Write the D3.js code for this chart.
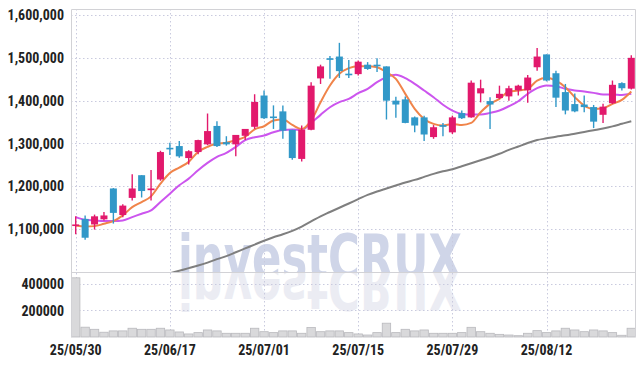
<!DOCTYPE html>
<html>
<head>
<meta charset="utf-8">
<script src="https://cdn.jsdelivr.net/npm/d3@7"></script>
<style>
  body { margin: 0; background: #fff; }
  svg { display: block; }
  .lbl { font-family: "Liberation Sans Narrow", "Roboto Condensed", "Roboto", sans-serif; font-weight: bold; font-size: 14px; fill: #222; }
</style>
</head>
<body>
<div id="chart"></div>
<script>
// trading days (KRX)
var dates = ['25/05/30', '25/06/02', '25/06/04', '25/06/05', '25/06/09', '25/06/10', '25/06/11', '25/06/12', '25/06/13', '25/06/16',
  '25/06/17', '25/06/18', '25/06/19', '25/06/20', '25/06/23', '25/06/24', '25/06/25', '25/06/26', '25/06/27', '25/06/30',
  '25/07/01', '25/07/02', '25/07/03', '25/07/04', '25/07/07', '25/07/08', '25/07/09', '25/07/10', '25/07/11', '25/07/14',
  '25/07/15', '25/07/16', '25/07/17', '25/07/18', '25/07/21', '25/07/22', '25/07/23', '25/07/24', '25/07/25', '25/07/28',
  '25/07/29', '25/07/30', '25/07/31', '25/08/01', '25/08/04', '25/08/05', '25/08/06', '25/08/07', '25/08/08', '25/08/11',
  '25/08/12', '25/08/13', '25/08/14', '25/08/18', '25/08/19', '25/08/20', '25/08/21', '25/08/22', '25/08/25', '25/08/26'];
var tickDates = ['25/05/30', '25/06/17', '25/07/01', '25/07/15', '25/07/29', '25/08/12'];

var openP = [1108000, 1124000, 1111000, 1123000, 1195000, 1133000, 1173000, 1226000, 1191000, 1216000,
  1290000, 1294000, 1266000, 1280000, 1298000, 1341000, 1303000, 1298000, 1318000, 1339000,
  1412000, 1363000, 1375000, 1332000, 1264000, 1332000, 1452000, 1499000, 1503000, 1463000,
  1462000, 1484000, 1484000, 1480000, 1400000, 1403000, 1361000, 1361000, 1315000, 1343000,
  1326000, 1371000, 1361000, 1417000, 1399000, 1406000, 1410000, 1424000, 1424000, 1478000,
  1508000, 1464000, 1420000, 1392000, 1391000, 1385000, 1367000, 1394000, 1441000, 1428000];
var highP = [1130000, 1132000, 1134000, 1140000, 1196000, 1158000, 1228000, 1226000, 1238000, 1283000,
  1302000, 1306000, 1284000, 1309000, 1370000, 1352000, 1317000, 1320000, 1334000, 1415000,
  1424000, 1389000, 1389000, 1332000, 1342000, 1443000, 1484000, 1504000, 1535000, 1495000,
  1494000, 1490000, 1499000, 1480000, 1409000, 1410000, 1363000, 1365000, 1343000, 1348000,
  1365000, 1377000, 1447000, 1449000, 1408000, 1435000, 1435000, 1437000, 1460000, 1523000,
  1508000, 1470000, 1439000, 1417000, 1412000, 1390000, 1393000, 1447000, 1443000, 1506000];
var lowP = [1088000, 1075000, 1099000, 1120000, 1113000, 1128000, 1167000, 1174000, 1167000, 1213000,
  1273000, 1267000, 1251000, 1275000, 1296000, 1292000, 1295000, 1270000, 1308000, 1334000,
  1357000, 1334000, 1311000, 1262000, 1258000, 1331000, 1439000, 1451000, 1453000, 1453000,
  1459000, 1472000, 1467000, 1356000, 1360000, 1347000, 1326000, 1306000, 1311000, 1317000,
  1322000, 1357000, 1360000, 1396000, 1334000, 1404000, 1400000, 1412000, 1395000, 1470000,
  1445000, 1385000, 1368000, 1373000, 1373000, 1336000, 1348000, 1392000, 1424000, 1426000];
var closeP = [1111000, 1080000, 1130000, 1132000, 1138000, 1155000, 1195000, 1189000, 1195000, 1280000,
  1288000, 1270000, 1282000, 1308000, 1329000, 1294000, 1298000, 1320000, 1334000, 1397000,
  1359000, 1360000, 1330000, 1266000, 1332000, 1435000, 1480000, 1497000, 1469000, 1460000,
  1491000, 1474000, 1482000, 1400000, 1391000, 1348000, 1342000, 1321000, 1338000, 1339000,
  1361000, 1359000, 1442000, 1429000, 1391000, 1416000, 1429000, 1435000, 1454000, 1503000,
  1447000, 1407000, 1377000, 1375000, 1385000, 1351000, 1386000, 1437000, 1429000, 1500000];

// moving averages as drawn (orange, violet, gray)
var ma5 = [1108700, 1106300, 1107100, 1112600, 1118800, 1132100, 1151600, 1163400, 1176600, 1206300,
  1231300, 1243800, 1257100, 1280500, 1292200, 1300000, 1301600, 1307800, 1315600, 1333000,
  1340300, 1353500, 1355900, 1343400, 1334100, 1353500, 1396400, 1435300, 1462600, 1475900,
  1480500, 1480500, 1478200, 1466500, 1450900, 1415900, 1380800, 1357400, 1345800, 1341900,
  1345800, 1343400, 1348100, 1373000, 1392500, 1404200, 1421300, 1423700, 1427600, 1447000,
  1453300, 1447000, 1431400, 1408100, 1388600, 1380800, 1382400, 1392500, 1401800, 1421300];
var ma10 = [1128200, 1122000, 1120400, 1118800, 1118800, 1120400, 1128200, 1136000, 1143800, 1163400,
  1182900, 1202400, 1218000, 1237600, 1254700, 1268800, 1278200, 1292200, 1307800, 1314700,
  1318500, 1326300, 1331700, 1332500, 1331700, 1348100, 1366800, 1384700, 1396400, 1404200,
  1417400, 1427600, 1443100, 1454800, 1460300, 1452500, 1439200, 1423700, 1408100, 1390500,
  1376900, 1369100, 1367600, 1367600, 1371500, 1376900, 1387000, 1398700, 1415900, 1429100,
  1435300, 1433800, 1427600, 1423700, 1421300, 1418200, 1414300, 1414300, 1413500, 1415900];
var maLong = [null, null, null, null, null, null, null, null, null, null,
  997000, 1003000, 1009000, 1015000, 1022000, 1030000, 1037000, 1046000, 1055000, 1064000,
  1073000, 1081000, 1088000, 1096000, 1106000, 1118000, 1130000, 1140000, 1150000, 1160000,
  1170000, 1180000, 1188000, 1195000, 1202000, 1209000, 1215000, 1222000, 1229000, 1235000,
  1240000, 1247000, 1254000, 1261000, 1268000, 1276000, 1285000, 1293000, 1301000, 1308000,
  1312000, 1316000, 1319000, 1323000, 1327000, 1331000, 1335000, 1340000, 1346000, 1352000];

var volume = [446000, 74000, 58000, 36000, 46000, 46000, 66000, 58000, 58000, 66000,
  53000, 38000, 23000, 33000, 53000, 46000, 28000, 28000, 28000, 66000,
  40000, 33000, 46000, 46000, 28000, 71000, 40000, 46000, 46000, 33000,
  23000, 15000, 33000, 104000, 33000, 58000, 46000, 53000, 28000, 28000,
  28000, 33000, 73000, 40000, 28000, 20000, 15000, 10000, 28000, 48000,
  33000, 46000, 66000, 53000, 40000, 53000, 46000, 33000, 13000, 66000];

var priceTicks = [1100000, 1200000, 1300000, 1400000, 1500000, 1600000];
var volTicks = [200000, 400000];

var width = 644, height = 366;
var plotLeft = 71, plotRight = 636, plotTop = 9, plotSplit = 272, plotBottom = 337;

var svg = d3.select('#chart').append('svg')
    .attr('width', width)
    .attr('height', height);

var x = d3.scaleBand().domain(dates).range([plotLeft, plotRight]).padding(0);
var cx = function (d) { return x(d) + x.bandwidth() / 2; };
var y = d3.scaleLinear().domain([1000000, 1614000]).range([plotSplit, plotTop]);
var yv = d3.scaleLinear().domain([0, 490000]).range([plotBottom, plotSplit]);

var defs = svg.append('defs');
defs.append('clipPath').attr('id', 'clipMain')
    .append('rect').attr('x', plotLeft).attr('y', plotTop)
    .attr('width', plotRight - plotLeft).attr('height', plotSplit - plotTop);
defs.append('clipPath').attr('id', 'clipVol')
    .append('rect').attr('x', plotLeft).attr('y', plotSplit)
    .attr('width', plotRight - plotLeft).attr('height', plotBottom - plotSplit);

// watermark + reflection
function watermark(g, color) {
    return g.append('text')
        .attr('x', 178).attr('y', 279)
        .attr('textLength', 284).attr('lengthAdjust', 'spacingAndGlyphs')
        .style('font-family', '"DejaVu Sans", sans-serif')
        .style('font-weight', 'bold').style('font-size', '63px')
        .style('fill', color)
        .text('investCRUX');
}
watermark(svg.append('g').attr('clip-path', 'url(#clipMain)'), '#cfd5e8');
watermark(svg.append('g').attr('clip-path', 'url(#clipVol)'), '#ebecf3')
    .attr('transform', 'translate(0,' + (2 * plotSplit) + ') scale(1,-1)');

// grid
var grid = svg.append('g')
    .style('stroke', '#c9cade')
    .style('stroke-dasharray', '1.5,2.5');
grid.selectAll('.hg').data(priceTicks).enter().append('line')
    .attr('x1', plotLeft).attr('x2', plotRight)
    .attr('y1', function (d) { return Math.round(y(d)) + 0.5; })
    .attr('y2', function (d) { return Math.round(y(d)) + 0.5; });
grid.selectAll('.vg').data(volTicks).enter().append('line')
    .attr('x1', plotLeft).attr('x2', plotRight)
    .attr('y1', function (d) { return Math.round(yv(d)) + 0.5; })
    .attr('y2', function (d) { return Math.round(yv(d)) + 0.5; });
grid.selectAll('.xg').data(tickDates).enter().append('line')
    .attr('x1', function (d) { return Math.round(cx(d)) + 0.5; })
    .attr('x2', function (d) { return Math.round(cx(d)) + 0.5; })
    .attr('y1', plotTop).attr('y2', plotBottom);

// volume bars
svg.append('g').selectAll('rect').data(volume).enter().append('rect')
    .attr('x', function (d, i) { return x(dates[i]) + 0.5; })
    .attr('width', x.bandwidth() - 1)
    .attr('y', function (d) { return yv(d); })
    .attr('height', function (d) { return plotBottom - yv(d); })
    .style('fill', '#d9d9db')
    .style('stroke', '#b9b9bd')
    .style('stroke-width', 0.8);

// moving averages
var main = svg.append('g').attr('clip-path', 'url(#clipMain)');
var line = d3.line()
    .defined(function (d) { return d != null; })
    .x(function (d, i) { return cx(dates[i]); })
    .y(function (d) { return y(d); })
    .curve(d3.curveMonotoneX);
[[maLong, '#7f7f7f'], [ma10, '#cc55ee'], [ma5, '#f0844a']].forEach(function (s) {
    main.append('path')
        .attr('d', line(s[0]))
        .style('fill', 'none')
        .style('stroke', s[1])
        .style('stroke-width', 2);
});

// candles
var upColor = '#e2196c', downColor = '#3198c8';
main.selectAll('.candle').data(dates).enter().append('g')
    .each(function (d, i) {
    var g = d3.select(this);
    var color = closeP[i] >= openP[i] ? upColor : downColor;
    var c = cx(d);
    g.append('line')
        .attr('x1', c).attr('x2', c)
        .attr('y1', y(highP[i])).attr('y2', y(lowP[i]))
        .style('stroke', color)
        .style('stroke-width', 1.4);
    var yt = y(Math.max(openP[i], closeP[i]));
    var yb = y(Math.min(openP[i], closeP[i]));
    g.append('rect')
        .attr('x', c - 3.5).attr('width', 7)
        .attr('y', yt).attr('height', Math.max(1.6, yb - yt))
        .style('fill', color);
});

// frame
var frame = svg.append('g').style('stroke', '#d2d2d6').style('fill', 'none');
frame.append('path')
    .attr('d', 'M' + (plotLeft + 0.5) + ',' + plotBottom + 'V' + (plotTop + 0.5) +
    'H' + (plotRight - 0.5) + 'V' + plotBottom);
frame.append('line')
    .attr('x1', plotLeft).attr('x2', plotRight)
    .attr('y1', plotSplit + 0.5).attr('y2', plotSplit + 0.5);

// axis labels
svg.append('g').selectAll('text').data(priceTicks).enter().append('text')
    .attr('class', 'lbl')
    .attr('x', 64).attr('y', function (d) { return y(d); })
    .attr('dy', '0.36em')
    .attr('text-anchor', 'end')
    .text(d3.format(','));
svg.append('g').selectAll('text').data(volTicks).enter().append('text')
    .attr('class', 'lbl')
    .attr('x', 64).attr('y', function (d) { return yv(d); })
    .attr('dy', '0.36em')
    .attr('text-anchor', 'end')
    .text(function (d) { return d; });
svg.append('g').selectAll('text').data(tickDates).enter().append('text')
    .attr('class', 'lbl')
    .attr('x', function (d) { return cx(d); })
    .attr('y', 355)
    .attr('text-anchor', 'middle')
    .text(function (d) { return d; });
</script>
</body>
</html>
